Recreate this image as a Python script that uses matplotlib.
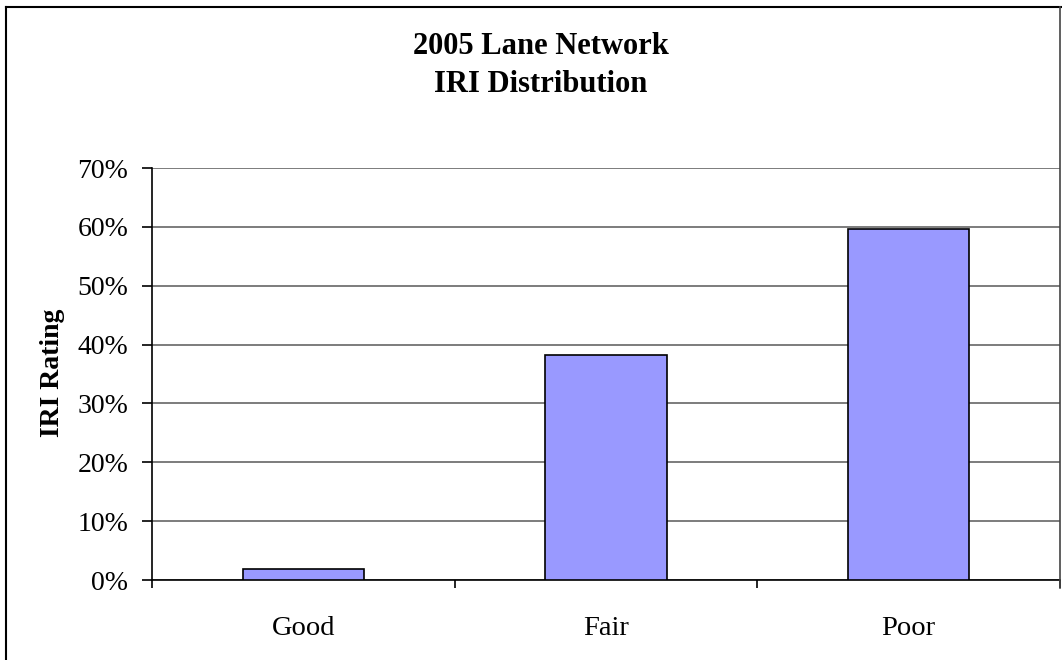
import matplotlib.pyplot as plt
from matplotlib.lines import Line2D
from matplotlib.ticker import FuncFormatter

categories = ['Good', 'Fair', 'Poor']
iri_share = [1.9, 38.2, 59.6]  # percent of lane network
y_ticks = [0, 10, 20, 30, 40, 50, 60, 70]

plt.rcParams['font.family'] = ['Liberation Serif', 'DejaVu Serif']

fig = plt.figure(figsize=(10.62, 6.6), dpi=100)
ax = fig.add_axes([152 / 1062, 1 - 580 / 660, (1060 - 152) / 1062, (580 - 168) / 660])

x = range(len(categories))
ax.bar(x, iri_share, width=0.4, color='#9999FF', edgecolor='black', linewidth=1.2, zorder=3)

ax.set_xlim(-0.5, len(categories) - 0.5)
ax.set_ylim(0, 70)
ax.set_yticks(y_ticks)
ax.yaxis.set_major_formatter(FuncFormatter(lambda v, p: '%d%%' % v))
ax.grid(axis='y', color='#666666', linewidth=1.2, zorder=0)

# category boundary ticks, labels on minor ticks
ax.set_xticks([i - 0.5 for i in range(len(categories) + 1)])
ax.set_xticklabels([])
ax.set_xticks(list(x), minor=True)
ax.set_xticklabels(categories, minor=True)
ax.tick_params(axis='x', which='major', length=6, width=1.2, direction='out')
ax.tick_params(axis='x', which='minor', length=0, pad=26, labelsize=20.5)
ax.tick_params(axis='y', length=7, width=1.2, direction='out', pad=10, labelsize=20)

for s in ['top', 'right']:
    ax.spines[s].set_visible(False)
ax.spines['left'].set_linewidth(1.2)
ax.spines['bottom'].set_linewidth(1.2)

ax.set_ylabel('IRI Rating', fontsize=20, fontweight='bold')
ax.yaxis.set_label_coords(-0.096, 0.502)

title_x = 541 / 1062
fig.text(title_x, 1 - 47 / 660, '2005 Lane Network', ha='center', va='center',
         fontsize=22, fontweight='bold')
fig.text(title_x, 1 - 85 / 660, 'IRI Distribution', ha='center', va='center',
         fontsize=22, fontweight='bold')

# chart border (cropped on right/bottom in original)
fig.add_artist(Line2D([6 / 1062, 6 / 1062], [0, 1 - 7 / 660], color='black', linewidth=1.5))
fig.add_artist(Line2D([6 / 1062, 1], [1 - 7 / 660, 1 - 7 / 660], color='black', linewidth=1.5))
fig.add_artist(Line2D([1060 / 1062, 1060 / 1062], [1 - 588 / 660, 1 - 7 / 660], color='#444444', linewidth=1.2))

fig.savefig('out.png', dpi=100)
